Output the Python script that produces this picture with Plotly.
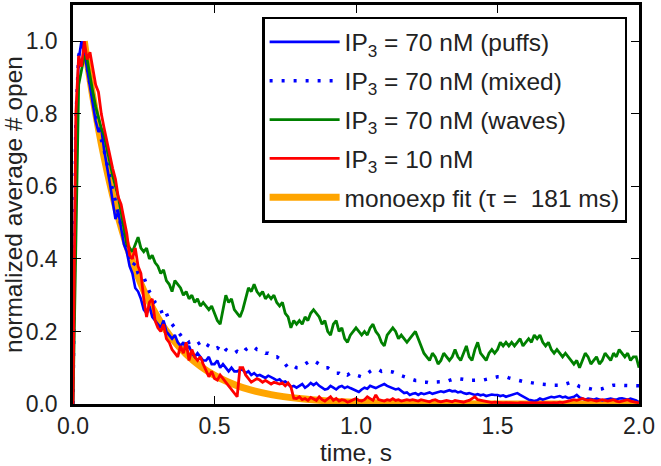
import plotly.graph_objects as go

# sampling grid (s): 0.00 .. 2.00 in 0.01 steps
T_STEP = 0.01
N_PTS = 201
time_s = [round(i * T_STEP, 2) for i in range(N_PTS)]

puffs_70nM = [
    0.00, 0.75, 0.95, 1.00, 0.97, 0.92, 0.87, 0.83, 0.78, 0.75,
    0.76, 0.70, 0.66, 0.61, 0.56, 0.51, 0.53, 0.48, 0.44, 0.42,
    0.38, 0.36, 0.32, 0.31, 0.29, 0.26, 0.25, 0.27, 0.24, 0.23,
    0.22, 0.21, 0.23, 0.20, 0.19, 0.18, 0.19, 0.17, 0.16, 0.17,
    0.15, 0.16, 0.14, 0.13, 0.14, 0.13, 0.12, 0.12, 0.13, 0.11,
    0.11, 0.12, 0.10, 0.11, 0.10, 0.09, 0.10, 0.09, 0.09, 0.095,
    0.094, 0.085, 0.09, 0.08, 0.085, 0.078, 0.08, 0.075, 0.072, 0.078,
    0.075, 0.07, 0.065, 0.068, 0.06, 0.062, 0.055, 0.047, 0.05, 0.045,
    0.05, 0.055, 0.045, 0.05, 0.058, 0.052, 0.058, 0.05, 0.045, 0.04,
    0.042, 0.05, 0.045, 0.04, 0.047, 0.05, 0.044, 0.048, 0.044, 0.04,
    0.035, 0.033, 0.04, 0.045, 0.042, 0.05, 0.047, 0.044, 0.048, 0.052,
    0.055, 0.05, 0.047, 0.045, 0.04, 0.042, 0.035, 0.03, 0.032, 0.025,
    0.028, 0.03, 0.025, 0.03, 0.027, 0.03, 0.032, 0.028, 0.03, 0.033,
    0.035, 0.033, 0.036, 0.038, 0.035, 0.036, 0.032, 0.034, 0.03, 0.028,
    0.03, 0.028, 0.025, 0.027, 0.024, 0.026, 0.022, 0.024, 0.026, 0.025,
    0.025, 0.022, 0.024, 0.02, 0.022, 0.025, 0.028, 0.03, 0.025, 0.02,
    0.015, 0.012, 0.01, 0.008, 0.01, 0.015, 0.012, 0.015, 0.018, 0.02,
    0.018, 0.02, 0.022, 0.018, 0.02, 0.016, 0.018, 0.02, 0.025, 0.018,
    0.015, 0.012, 0.015, 0.013, 0.012, 0.015, 0.013, 0.01, 0.012, 0.014,
    0.015, 0.013, 0.012, 0.015, 0.016, 0.014, 0.012, 0.015, 0.013, 0.01,
    0.005,
]

mixed_70nM = [
    0.00, 0.78, 0.96, 0.99, 0.96, 0.93, 0.88, 0.85, 0.80, 0.76,
    0.73, 0.70, 0.66, 0.62, 0.59, 0.56, 0.52, 0.49, 0.46, 0.43,
    0.40, 0.38, 0.39, 0.36, 0.35, 0.35, 0.33, 0.31, 0.30, 0.28,
    0.27, 0.26, 0.24, 0.25, 0.23, 0.22, 0.21, 0.20, 0.19, 0.18,
    0.18, 0.17, 0.175, 0.17, 0.165, 0.17, 0.16, 0.165, 0.16, 0.155,
    0.15, 0.155, 0.15, 0.16, 0.15, 0.145, 0.14, 0.14, 0.145, 0.14,
    0.14, 0.15, 0.155, 0.16, 0.157, 0.15, 0.15, 0.145, 0.14, 0.14,
    0.135, 0.13, 0.13, 0.125, 0.12, 0.11, 0.10, 0.10, 0.105, 0.10,
    0.10, 0.105, 0.11, 0.115, 0.12, 0.12, 0.115, 0.11, 0.105, 0.10,
    0.10, 0.095, 0.09, 0.085, 0.085, 0.08, 0.085, 0.08, 0.085, 0.08,
    0.08, 0.078, 0.075, 0.078, 0.085, 0.09, 0.095, 0.094, 0.095, 0.09,
    0.092, 0.09, 0.09, 0.088, 0.085, 0.08, 0.078, 0.075, 0.072, 0.07,
    0.068, 0.065, 0.065, 0.062, 0.06, 0.06, 0.058, 0.06, 0.06, 0.062,
    0.06, 0.06, 0.062, 0.065, 0.068, 0.07, 0.07, 0.07, 0.068, 0.065,
    0.065, 0.066, 0.065, 0.066, 0.065, 0.066, 0.068, 0.07, 0.072, 0.074,
    0.075, 0.075, 0.076, 0.075, 0.072, 0.07, 0.066, 0.064, 0.062, 0.06,
    0.06, 0.06, 0.058, 0.058, 0.056, 0.055, 0.055, 0.054, 0.053, 0.052,
    0.052, 0.052, 0.053, 0.052, 0.055, 0.058, 0.06, 0.057, 0.052, 0.048,
    0.047, 0.045, 0.043, 0.042, 0.04, 0.04, 0.04, 0.042, 0.045, 0.048,
    0.05, 0.052, 0.052, 0.052, 0.05, 0.05, 0.052, 0.052, 0.052, 0.052,
    0.05,
]

waves_70nM = [
    0.00, 0.45, 0.88, 0.92, 0.96, 0.95, 0.90, 0.86, 0.82, 0.79,
    0.76, 0.74, 0.70, 0.66, 0.63, 0.60, 0.57, 0.53, 0.49, 0.44,
    0.43, 0.42, 0.44, 0.46, 0.43, 0.42, 0.43, 0.40, 0.41, 0.39,
    0.38, 0.36, 0.37, 0.34, 0.33, 0.31, 0.34, 0.33, 0.32, 0.30,
    0.31, 0.29, 0.30, 0.28, 0.29, 0.27, 0.28, 0.27, 0.26, 0.27,
    0.25, 0.23, 0.22, 0.26, 0.30, 0.28, 0.29, 0.26, 0.25, 0.24,
    0.26, 0.29, 0.32, 0.31, 0.33, 0.31, 0.30, 0.31, 0.29, 0.30,
    0.29, 0.30, 0.28, 0.27, 0.28, 0.25, 0.24, 0.21, 0.23, 0.22,
    0.23, 0.22, 0.24, 0.23, 0.25, 0.26, 0.25, 0.24, 0.22, 0.23,
    0.20, 0.19, 0.22, 0.23, 0.20, 0.21, 0.18, 0.17, 0.19, 0.20,
    0.21, 0.20, 0.19, 0.20, 0.19, 0.21, 0.22, 0.20, 0.19, 0.17,
    0.16, 0.19, 0.20, 0.21, 0.20, 0.18, 0.19, 0.18, 0.17, 0.18,
    0.19, 0.20, 0.18, 0.16, 0.14, 0.13, 0.12, 0.14, 0.13, 0.11,
    0.12, 0.14, 0.13, 0.12, 0.13, 0.15, 0.13, 0.12, 0.14, 0.16,
    0.13, 0.12, 0.15, 0.17, 0.14, 0.13, 0.12, 0.14, 0.15, 0.14,
    0.15, 0.17, 0.16, 0.17, 0.16, 0.17, 0.16, 0.17, 0.18, 0.16,
    0.17, 0.18, 0.17, 0.19, 0.18, 0.19, 0.17, 0.16, 0.17, 0.15,
    0.14, 0.15, 0.14, 0.13, 0.14, 0.13, 0.12, 0.11, 0.12, 0.10,
    0.12, 0.14, 0.13, 0.11, 0.12, 0.13, 0.11, 0.12, 0.14, 0.13,
    0.12, 0.14, 0.13, 0.15, 0.14, 0.13, 0.14, 0.12, 0.13, 0.13,
    0.10,
]

ip3_10nM = [
    0.00, 0.80, 0.96, 0.93, 1.00, 0.95, 0.97, 0.92, 0.88, 0.86,
    0.80, 0.76, 0.72, 0.69, 0.65, 0.62, 0.57, 0.55, 0.51, 0.47,
    0.41, 0.40, 0.43, 0.38, 0.36, 0.29, 0.24, 0.28, 0.29, 0.23,
    0.21, 0.20, 0.22, 0.18, 0.17, 0.15, 0.14, 0.13, 0.16, 0.14,
    0.17, 0.12, 0.15, 0.13, 0.12, 0.13, 0.11, 0.09, 0.075, 0.09,
    0.07, 0.066, 0.08, 0.07, 0.06, 0.05, 0.04, 0.03, 0.02, 0.10,
    0.10, 0.08, 0.07, 0.06, 0.065, 0.07, 0.066, 0.06, 0.065, 0.06,
    0.055, 0.06, 0.058, 0.055, 0.058, 0.05, 0.058, 0.047, 0.016, 0.015,
    0.02, 0.012, 0.015, 0.01, 0.018, 0.015, 0.01, 0.02, 0.012, 0.008,
    0.015, 0.02, 0.01, 0.015, 0.008, 0.012, 0.01, 0.005, 0.008, 0.012,
    0.015, 0.01, 0.008, 0.012, 0.02, 0.015, 0.01, 0.025, 0.012, 0.01,
    0.008, 0.012, 0.01, 0.015, 0.01, 0.012, 0.008, 0.01, 0.012, 0.01,
    0.012, 0.01, 0.008, 0.012, 0.01, 0.008, 0.006, 0.01, 0.012, 0.008,
    0.006, 0.008, 0.01, 0.008, 0.006, 0.01, 0.008, 0.006, 0.005, 0.008,
    0.01, 0.015, 0.02, 0.012, 0.01, 0.008, 0.006, 0.005, 0.004, 0.005,
    0.004, 0.005, 0.003, 0.004, 0.003, 0.002, 0.003, 0.002, 0.004, 0.003,
    0.002, 0.003, 0.004, 0.003, 0.002, 0.003, 0.004, 0.003, 0.002, 0.003,
    0.004, 0.003, 0.005, 0.004, 0.006, 0.008, 0.01, 0.012, 0.01, 0.012,
    0.015, 0.012, 0.01, 0.012, 0.01, 0.008, 0.01, 0.012, 0.01, 0.008,
    0.01, 0.012, 0.008, 0.006, 0.008, 0.01, 0.012, 0.008, 0.006, 0.004,
    0.003,
]

fit_time_s = [0.04, 0.06, 0.08, 0.10, 0.12, 0.14, 0.16, 0.18, 0.20, 0.25,
              0.30, 0.35, 0.40, 0.45, 0.50, 0.55, 0.60, 0.70, 0.80, 0.90,
              1.00, 1.20, 1.50, 2.00]
fit_values = [1.000, 0.895, 0.802, 0.718, 0.643, 0.576, 0.515, 0.461, 0.413, 0.313,
              0.238, 0.180, 0.137, 0.104, 0.079, 0.060, 0.045, 0.026, 0.015, 0.0086,
              0.005, 0.0016, 0.0003, 0.0000]

x_ticks = [0.0, 0.5, 1.0, 1.5, 2.0]
y_ticks = [0.0, 0.2, 0.4, 0.6, 0.8, 1.0]

FONT = "Liberation Sans, Arial, Helvetica, sans-serif"
TXT = "#222222"

fig = go.Figure()
fig.add_trace(go.Scatter(x=fit_time_s, y=fit_values, mode="lines",
                         line=dict(color="#ffa500", width=7, shape="spline"),
                         name="monoexp fit (τ =\u00a0 181 ms)", legendgroup="e", legendrank=5))
fig.add_trace(go.Scatter(x=time_s, y=puffs_70nM, mode="lines",
                         line=dict(color="#0000ff", width=2.6),
                         name="IP<sub>3</sub> = 70 nM (puffs)", legendgroup="a", legendrank=1))
fig.add_trace(go.Scatter(x=time_s, y=mixed_70nM, mode="lines",
                         line=dict(color="#0000ff", width=3.5, dash="3px,9px"),
                         name="IP<sub>3</sub> = 70 nM (mixed)", legendgroup="b", legendrank=2))
fig.add_trace(go.Scatter(x=time_s, y=waves_70nM, mode="lines",
                         line=dict(color="#008000", width=2.8),
                         name="IP<sub>3</sub> = 70 nM (waves)", legendgroup="c", legendrank=3))
fig.add_trace(go.Scatter(x=time_s, y=ip3_10nM, mode="lines",
                         line=dict(color="#ff0000", width=2.8),
                         name="IP<sub>3</sub> = 10 nM", legendgroup="d", legendrank=4))

axis_common = dict(showline=True, linecolor="black", linewidth=2.5, mirror="ticks",
                   ticks="inside", ticklen=8, tickwidth=1.2, tickcolor="black",
                   showgrid=False, zeroline=False, tickformat=".1f",
                   tickfont=dict(family=FONT, size=23, color=TXT))

fig.update_xaxes(range=[0, 2.0], tickvals=x_ticks,
                 title=dict(text="time, s", font=dict(family=FONT, size=24.5, color=TXT), standoff=0),
                 ticklabelstandoff=0, **axis_common)
fig.update_yaxes(range=[0, 1.1], tickvals=y_ticks,
                 title=dict(text="normalized average # open", font=dict(family=FONT, size=24.5, color=TXT), standoff=4),
                 ticklabelstandoff=8, **axis_common)

fig.update_layout(
    width=661, height=466,
    margin=dict(l=73, r=22, t=5, b=62, autoexpand=False),
    paper_bgcolor="white", plot_bgcolor="white",
    font=dict(family=FONT, size=23, color=TXT),
    showlegend=True,
    legend=dict(x=0.979, y=0.970, xanchor="right", yanchor="top",
                bgcolor="white", bordercolor="black", borderwidth=2.5,
                font=dict(family=FONT, size=24.5, color=TXT),
                itemwidth=70, tracegroupgap=4, traceorder="grouped"),
)

fig.write_html("out.html", config={"displayModeBar": False},
               post_script="document.body.style.margin='0';")
